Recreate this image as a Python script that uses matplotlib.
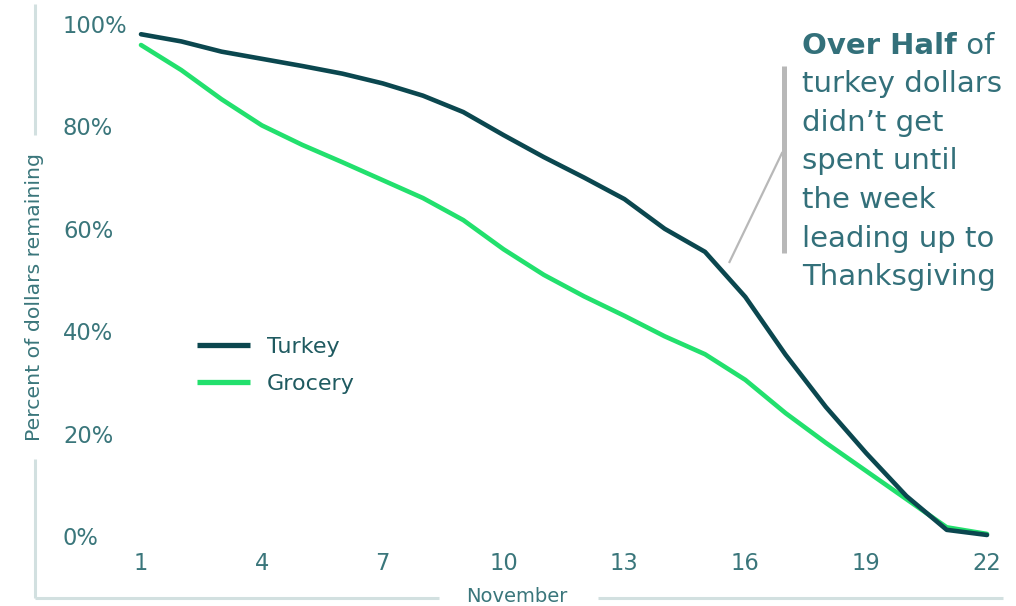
import matplotlib
matplotlib.use("Agg")
import matplotlib.pyplot as plt
from matplotlib.lines import Line2D

# ---- data ----
days = list(range(1, 23))
turkey = [98.0, 96.6, 94.6, 93.2, 91.8, 90.3, 88.4, 86.0, 82.8, 78.3, 74.0,
          70.0, 65.8, 60.0, 55.5, 46.7, 35.4, 25.2, 16.2, 7.8, 1.2, 0.2]
grocery = [95.9, 91.0, 85.3, 80.2, 76.4, 73.0, 69.5, 66.0, 61.7, 56.0, 51.0,
           46.8, 43.0, 39.0, 35.5, 30.5, 24.0, 18.2, 12.7, 7.2, 1.7, 0.4]
xticks = [1, 4, 7, 10, 13, 16, 19, 22]
yticks = [0, 20, 40, 60, 80, 100]
ytick_labels = ["0%", "20%", "40%", "60%", "80%", "100%"]
series_names = ["Turkey", "Grocery"]
annotation_bold = "Over Half"
annotation_lines = ["turkey dollars", "didn\u2019t get", "spent until",
                    "the week", "leading up to", "Thanksgiving"]

# ---- style ----
FONT = "DejaVu Sans"
plt.rcParams["font.family"] = [FONT]
TEXT = "#3a767b"
ANN = "#33707a"
TURKEY_C = "#0b474f"
GROCERY_C = "#22e06d"
SPINE_C = "#d2e0e0"
CALLOUT_C = "#b8b8b8"

W, H = 1016, 606
fig = plt.figure(figsize=(W / 100, H / 100), dpi=100)

def fx(px):
    return px / W

def fy(py):
    return 1 - py / H

# axes box in pixels
left_px, right_px, top_px, bot_px = 35, 1003, 4, 597.5
ax = fig.add_axes([fx(left_px), fy(bot_px), (right_px - left_px) / W, (bot_px - top_px) / H])

# pixel anchors for scale
x1_px, x22_px = 141, 987
y0_px, y100_px = 536, 24
sx = (x22_px - x1_px) / 21.0
sy = (y0_px - y100_px) / 100.0
ax.set_xlim(1 - (x1_px - left_px) / sx, 22 + (right_px - x22_px) / sx)
ax.set_ylim(-(bot_px - y0_px) / sy, 100 + (y100_px - top_px) / sy)

l1, = ax.plot(days, turkey, color=TURKEY_C, lw=3.3, solid_capstyle="round",
              solid_joinstyle="round", label=series_names[0], zorder=3)
l2, = ax.plot(days, grocery, color=GROCERY_C, lw=3.3, solid_capstyle="round",
              solid_joinstyle="round", label=series_names[1], zorder=2)

for s in ax.spines.values():
    s.set_visible(False)
ax.patch.set_visible(False)

# ticks
ax.set_xticks(xticks)
ax.set_xticklabels([str(t) for t in xticks])
ax.set_yticks(yticks)
ax.set_yticklabels(ytick_labels)
ax.tick_params(length=0, labelcolor=TEXT, labelsize=16.3)
ax.tick_params(axis="y", pad=-(63 - left_px) * 0.72)
for lab in ax.get_yticklabels():
    lab.set_ha("left")
ax.tick_params(axis="x", pad=-(bot_px - 563) * 0.72)
for lab in ax.get_xticklabels():
    lab.set_va("center")

# custom broken spines
spine_kw = dict(color=SPINE_C, lw=2.2, solid_capstyle="butt", transform=fig.transFigure)
fig.add_artist(Line2D([fx(left_px)] * 2, [fy(top_px), fy(135)], **spine_kw))
fig.add_artist(Line2D([fx(left_px)] * 2, [fy(459), fy(bot_px)], **spine_kw))
fig.add_artist(Line2D([fx(left_px), fx(439)], [fy(bot_px)] * 2, **spine_kw))
fig.add_artist(Line2D([fx(598), fx(right_px)], [fy(bot_px)] * 2, **spine_kw))

# axis labels
fig.text(fx(35), fy(297), "Percent of dollars remaining", rotation=90,
         ha="center", va="center", color=TEXT, fontsize=14.7)
fig.text(fx(517), fy(596), "November", ha="center", va="center",
         color=TEXT, fontsize=14)

# legend
fs_leg = 16
px_per_pt = 100 / 72
leg = ax.legend(handles=[l1, l2], loc="center left",
                bbox_to_anchor=(fx(197), fy(365.5)), bbox_transform=fig.transFigure,
                frameon=False, fontsize=fs_leg, borderpad=0, borderaxespad=0,
                handlelength=53 / (fs_leg * px_per_pt),
                handletextpad=17 / (fs_leg * px_per_pt),
                labelspacing=0.78, labelcolor="#1f5a60")
for h in leg.legend_handles:
    h.set_linewidth(3.8)
    h.set_solid_capstyle("butt")

# callout
fig.add_artist(Line2D([fx(784)] * 2, [fy(66), fy(253)], color=CALLOUT_C, lw=3.6,
                      solid_capstyle="butt", transform=fig.transFigure))
fig.add_artist(Line2D([fx(782), fx(729.5)], [fy(153), fy(262)], color=CALLOUT_C, lw=1.6,
                      transform=fig.transFigure))

ann_fs = 21
base0 = 53.5
step = 38.6
tb = fig.text(fx(802), fy(base0), annotation_bold, fontsize=ann_fs, weight="bold",
              color=ANN, ha="left", va="baseline")
ax.annotate(" of", xy=(1, 0), xycoords=tb, ha="left", va="bottom",
            fontsize=ann_fs, color=ANN, annotation_clip=False)
for i, line in enumerate(annotation_lines):
    fig.text(fx(802), fy(base0 + (i + 1) * step), line, fontsize=ann_fs,
             color=ANN, ha="left", va="baseline")

fig.savefig("out.png", dpi=100)
